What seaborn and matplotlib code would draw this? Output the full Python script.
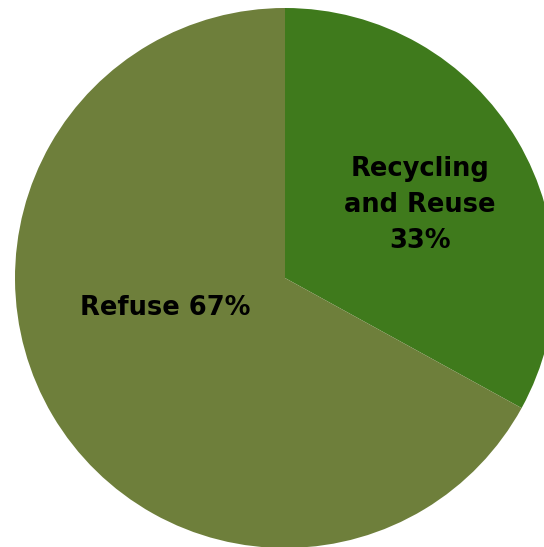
import matplotlib
matplotlib.use('Agg')
import matplotlib.pyplot as plt
import seaborn as sns

categories = ["Recycling\nand Reuse", "Refuse"]
shares = [33, 67]
colors = ["#3F7A1C", "#6E7F3B"]

sns.set_style("white")
plt.rcParams['font.family'] = ['DejaVu Sans']

fig = plt.figure(figsize=(5.44, 5.47), dpi=100)
ax = fig.add_axes([0, 0, 1, 1])

labels = [f"{c} {s}%" if "\n" not in c else f"{c}\n{s}%" for c, s in zip(categories, shares)]
wedges, texts = ax.pie(shares, labels=labels, colors=colors, startangle=90, counterclock=False,
                       labeldistance=0.57, radius=1.0,
                       wedgeprops=dict(linewidth=0),
                       textprops=dict(fontsize=18.5, fontweight='bold', color='black'))
for t in texts:
    t.set_horizontalalignment('center')
    t.set_verticalalignment('center')
    t.set_linespacing(1.5)
# label positions as in the original
texts[0].set_position((0.5, 0.27))
texts[1].set_position((-0.445, -0.11))

# pie centre at (285, 278) px, radius 270 px
r = 270.0
ax.set_xlim(-285 / r, (544 - 285) / r)
ax.set_ylim(-(547 - 278) / r, 278 / r)
ax.set_aspect('auto')
ax.axis('off')

fig.savefig("out.png", dpi=100)
